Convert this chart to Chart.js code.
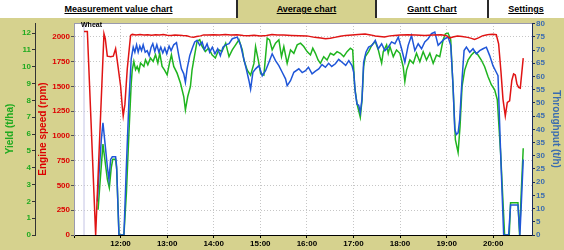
<!DOCTYPE html>
<html><head><meta charset="utf-8">
<script src="https://cdn.jsdelivr.net/npm/chart.js@4.4.0/dist/chart.umd.min.js"></script>
<style>
html,body{margin:0;padding:0;background:#d6d28e;width:564px;height:250px;overflow:hidden;font-family:"Liberation Sans",Arial,sans-serif;}
#wrap{position:relative;width:564px;height:250px;}
#tabs{position:absolute;left:0;top:0;width:564px;height:18px;background:#ffffff;z-index:2;}
.tab{position:absolute;top:0;height:18px;line-height:18px;text-align:center;font-weight:bold;font-size:9px;text-decoration:underline;color:#000;}
.sep{position:absolute;top:0;width:2px;height:18px;background:#2a2a2a;}
#wheat{position:absolute;left:81px;top:21px;font:bold 7px "Liberation Sans",Arial,sans-serif;color:#000;z-index:2;}
canvas{position:absolute;left:0;top:0;}
</style></head>
<body><div id="wrap">
<canvas id="c" width="564" height="250"></canvas>
<div id="tabs">
 <div class="tab" style="left:0;width:237px">Measurement value chart</div>
 <div class="tab" style="left:237px;width:139px;background:#d6d28e">Average chart</div>
 <div class="tab" style="left:376px;width:112px">Gantt Chart</div>
 <div class="tab" style="left:488px;width:76px">Settings</div>
 <div class="sep" style="left:236px"></div>
 <div class="sep" style="left:375px"></div>
 <div class="sep" style="left:487px"></div>
</div>
<div id="wheat">Wheat</div>
</div>
<script>
// time = minutes after 11:00
const hourLabels = ['11:00','12:00','13:00','14:00','15:00','16:00','17:00','18:00','19:00','20:00'];
const markerTime = [12.9];

const speedTimes = [12.9,17.2,27.9,38.6,40.3,42.9,47.2,50.6,53.6,55.7,60,62.1,63.4,65.6,68.6,72.9,75,80,85,90,95,100,105,110,115,120,125,130,135,140,145,150,154,158,163,167,172,180,187,195,202,210,218,225,232,240,248,255,262,270,280,290,300,310,318,324,330,336,343,350,358,366,375,382,388,394,400,407,413,420,430,440,452,462,473,480,484,488,494,500,507,512,516,521,526,531,535,540,544,547,550,552.6,555.6,558.2,561.2,564,566.3,568.5,570.6,572.7,574.9,578.7];
const speedRpm = [2055,2055,0,2032,1981,1805,1800,1805,1880,1760,1507,1304,1202,1321,1676,2015,2025,2020,2024,2018,2022,2016,2022,2019,2023,2017,2015,2019,2016,2013,2012,2000,1996,2004,2010,2020,2018,2022,2019,2023,2018,2021,2014,2012,2017,2008,2015,2025,2019,2018,2015,2012,2010,1995,1988,1982,1985,1995,2006,2015,2020,2025,2028,2020,2008,2004,1998,2010,2015,2020,2022,2018,2015,2020,2022,2012,1988,1998,2008,2004,1995,1985,1974,1990,2010,2018,2025,2026,2022,1930,1650,1372,1202,1338,1355,1560,1626,1615,1524,1490,1483,1785];

const tputTimes = [30,32.6,35.2,37.3,39.9,42.9,45,47.2,49.3,53.6,54.9,57.9,64.3,67.3,70.7,73.7,76.3,78.4,80.6,82.7,84.8,87,89.1,91.7,94.3,96.8,99.4,101.5,104.1,106.7,109.3,111.8,114.4,117,119.5,122.5,125.1,128.5,132,135,138.4,141.4,143.5,145.7,149.1,152.5,155.5,158.5,162,165,168,171.4,174.8,178.2,181.6,185.1,188.5,191.9,195.5,199.7,203.9,210.4,214.7,217.7,221.9,225.4,227.5,230.5,233.9,238.2,242.5,246.8,251.1,255.3,259.6,263.9,268.2,272.5,274.6,278.9,283.2,289.6,294,298.2,302,306.7,311,315.3,319.5,323.9,328,332,336.7,341,345.3,350,354,358.1,360.3,362.4,364.6,366.7,368.8,371,373.1,376.1,379.5,383.8,388.1,392,396.3,400.5,404.8,409.1,413.4,417.7,422,426.2,430.5,434.8,439.1,443.4,447.7,451.9,456.2,460.5,464.8,469.1,473.4,477.6,481.9,485.3,488.3,490.5,492.6,494.8,496.9,499.9,502.5,505.5,509.8,514,518.3,522.6,526.9,531.2,535.5,539.7,544,546.2,549.6,553.5,559.9,562.4,571.9,574.4,576.1,578.7];
const tputValues = [12.7,24.8,36.2,42.5,34.9,26,21,28.6,29.6,29.6,26,0,0,24.8,50.2,66.7,71.1,69.2,72,69.2,71.5,69.8,72,69.2,69.8,67.9,71.1,72.4,69.5,72,69.2,71.1,68.9,70.8,68.6,71.5,69.8,72,72.8,67.9,62.9,61,57.8,62.9,67.9,70.8,73.1,73.7,71.8,73.1,70.2,72.4,69.2,71.1,68.6,70.5,67.9,71.1,72,72.4,74.3,74.9,71.8,67.9,62.9,58.4,55.2,61.6,62.9,64.1,60.3,62.2,65.4,68.6,66,64.1,61.6,59.1,56.5,58.4,61.6,62.9,61.5,62.2,63.5,61,62,62.9,64.5,63.5,65,63.8,64.8,66.5,65.4,64.2,66,64.1,61.6,53.9,49.5,49.1,46.3,51.4,65.4,69.2,71.1,71.8,73.7,70.5,72.4,69.8,71.1,73.1,72.4,74.9,70.5,65.4,71.8,75.5,69.8,72.4,70.5,73.1,74.3,76.2,76.8,71.8,73.1,74.3,74.9,71.8,56.5,40,38.1,38.7,43.8,59.1,69.8,71.1,69.2,70.5,68.6,69.8,70.5,71.1,67.9,64.1,61.6,60.3,31,0,0,11.4,11.4,0,10.8,28.6];

const yieldTimes = [31,34,37.3,40,43,45.5,48,50,53.6,55,58,64.3,67.5,70.7,73.7,75,77.1,79.3,81.4,83.6,85.7,90,92.1,95.1,98.5,102,105,108,110.5,113.5,116.5,120,123,125.5,128.5,132.8,137.1,141.4,143.5,146.5,150,152.1,155.1,158.5,162,165,169.2,173.5,177.8,182.1,186.4,190.6,195.4,199.7,203.9,208.2,212.5,216.8,218.9,223.2,227.5,231.8,233.9,237.4,240.4,244.6,248.9,251.9,255.3,259.6,263.9,267.3,270.3,274.6,278.9,283.2,287.5,291.8,296,300.3,304.6,307.6,311,314.4,317.4,321.7,326,330.3,334.6,338.9,343.1,347.4,351.7,356,359,361.6,364.6,366.7,368.8,371,373.1,375.3,379.5,383.8,388.1,392,394.1,396.3,398.4,402.7,404.8,407,411.3,415.5,419.8,424.1,426.2,428.4,432.7,437,441.2,445.5,449.8,454.1,458.4,462.7,467,471.2,475.5,478.5,481.9,485.3,488.3,491.3,494.8,497.3,499.9,503.3,507.6,511.9,516.2,520.5,524.7,529,533.3,537.6,541.9,545.3,549.6,554.7,560.7,562.4,571.9,574,576.1,578.7];
const yieldValues = [1.5,3.4,5.4,4.4,3.3,2.8,4,4.5,4.5,3.9,0,0,2.5,6,9,9.8,10.32,9.82,10.02,9.72,10.22,10.02,10.42,10.12,10.52,10.32,10.71,10.22,10.81,10.02,9.82,9.52,10.22,10.71,10.02,9.62,9.03,8.23,7.44,8.23,8.83,9.82,10.61,11.51,11.61,11.21,10.91,11.11,10.71,10.52,11.01,10.91,11.4,10.6,11,11.3,11.6,11,10.4,9.8,9.5,10.2,11.2,10.4,9.6,9.5,11.7,11.6,11,11.4,11.6,10.6,11.2,10.2,11,10.8,11.3,11.4,11.2,10.9,10.7,11.1,10.8,10.4,10.2,10.6,10.4,10.8,10.7,10.9,10.8,10.6,10.9,11.1,11,8.8,7.8,7.4,7,8,10,10.6,10.9,11.3,11.5,11,10.6,10.22,10.9,11.3,10.8,11.2,10.6,11,10.8,10,9.13,9.8,10.4,10.2,10.8,10.3,10.9,10.4,10.8,10.2,10.7,10.6,11.6,11.96,12,11.6,8.8,5.66,4.9,6.45,8.83,9.8,10.4,10.7,10.9,10.7,10.4,10,9.42,8.93,8.63,8.04,4.86,0,0,1.92,1.92,0,2.48,5.16];

const X_MIN = 0, X_MAX = 590;
const SPEED_MAX = 2140, YIELD_MAX = 12.6, TPUT_MAX = 80.25;

const FONT = '"Liberation Sans", Arial, sans-serif';
const pts = (ts, vs) => ts.map((t, i) => ({x: t, y: vs[i]}));
const plain = v => String(v);

const framePlugin = {
  id: 'frame',
  beforeDraw(chart) {
    const {ctx, chartArea: a} = chart;
    ctx.save();
    ctx.fillStyle = '#ffffff';
    ctx.fillRect(a.left, a.top, a.right - a.left, a.bottom - a.top);
    ctx.restore();
  },
  afterDraw(chart) {
    const {ctx, chartArea: a} = chart;
    ctx.save();
    ctx.strokeStyle = '#9a9aae';
    ctx.lineWidth = 1;
    ctx.beginPath();
    ctx.moveTo(a.left, a.top + 0.5);
    ctx.lineTo(a.right, a.top + 0.5);
    ctx.stroke();
    ctx.restore();
  }
};

new Chart(document.getElementById('c'), {
  type: 'line',
  data: {
    datasets: [
      {label: 'Engine speed (rpm)', data: pts(speedTimes, speedRpm), yAxisID: 'ySpeed', borderColor: '#e01414', borderWidth: 1.5, order: 0},
      {label: 'Throughput (t/h)', data: pts(tputTimes, tputValues), yAxisID: 'yTput', borderColor: '#1f56d8', borderWidth: 1.5, order: 1},
      {label: 'Yield (t/ha)', data: pts(yieldTimes, yieldValues), yAxisID: 'yYield', borderColor: '#1fb41f', borderWidth: 1.5, order: 2},
      {label: 'start', data: [{x: markerTime[0], y: 0}, {x: markerTime[0], y: SPEED_MAX}], yAxisID: 'ySpeed', borderColor: '#c4c4e4', borderWidth: 1, order: 3}
    ]
  },
  options: {
    responsive: false,
    animation: false,
    events: [],
    elements: {point: {radius: 0}, line: {tension: 0, fill: false}},
    layout: {padding: {top: 23, left: 0, right: 0, bottom: 0}},
    plugins: {legend: {display: false}, tooltip: {enabled: false}},
    scales: {
      x: {
        type: 'linear', position: 'bottom', min: X_MIN, max: X_MAX,
        afterFit(s) { s.height = 15; },
        ticks: {
          stepSize: 60, autoSkip: false, maxRotation: 0, includeBounds: false, padding: 1,
          color: '#000', font: {family: FONT, size: 8, weight: 'bold'},
          callback: v => (v === 0 ? '' : hourLabels[Math.round(v / 60)])
        },
        grid: {color: '#c6c6c6', lineWidth: 1, tickLength: 3, tickColor: '#000'},
        border: {color: '#000', width: 1, dash: [1, 2]}
      },
      ySpeed: {
        type: 'linear', position: 'left', weight: 0, min: 0, max: SPEED_MAX,
        afterFit(s) { s.width = 39; },
        ticks: {stepSize: 250, includeBounds: false, padding: 1, color: '#dd0000', font: {family: FONT, size: 8, weight: 'bold'}, callback: plain},
        grid: {color: '#c6c6c6', lineWidth: 1, tickLength: 3, tickColor: '#555'},
        border: {color: '#9a9aae', width: 1, dash: [1, 2]},
        title: {display: true, text: 'Engine speed (rpm)', color: '#dd0000', font: {family: FONT, size: 10, weight: 'bold'}, padding: {top: 2, bottom: 0}}
      },
      yYield: {
        type: 'linear', position: 'left', weight: 1, min: 0, max: YIELD_MAX,
        afterFit(s) { s.width = 35; },
        ticks: {stepSize: 1, includeBounds: false, padding: 1, color: '#1faa1f', font: {family: FONT, size: 8, weight: 'bold'}, callback: plain},
        grid: {drawOnChartArea: false, tickLength: 3, tickColor: '#333'},
        border: {color: '#333', width: 1},
        title: {display: true, text: 'Yield (t/ha)', color: '#1faa1f', font: {family: FONT, size: 10, weight: 'bold'}, padding: {top: 4, bottom: 0}}
      },
      yTput: {
        type: 'linear', position: 'right', min: 0, max: TPUT_MAX,
        afterFit(s) { s.width = 32; },
        ticks: {stepSize: 5, includeBounds: false, padding: 1, color: '#3b6cb0', font: {family: FONT, size: 8, weight: 'bold'}, callback: plain},
        grid: {drawOnChartArea: false, tickLength: 3, tickColor: '#1a2a5a'},
        border: {color: '#1a2a5a', width: 1},
        title: {display: true, text: 'Throughput (t/h)', color: '#3b6cb0', font: {family: FONT, size: 10, weight: 'bold'}, padding: {top: 2, bottom: 0}}
      }
    }
  },
  plugins: [framePlugin]
});
</script>
</body></html>
